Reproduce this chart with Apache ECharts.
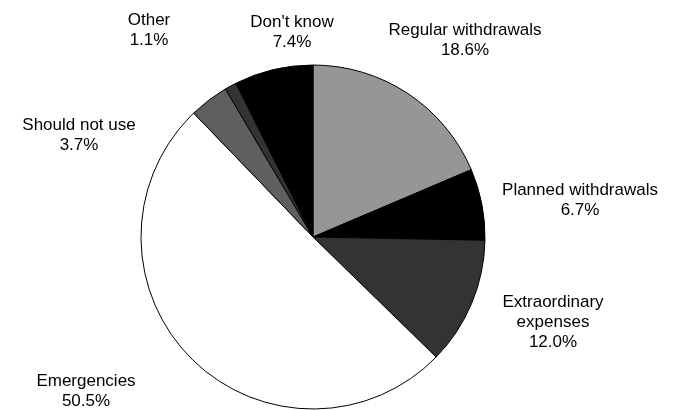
<!DOCTYPE html>
<html><head><meta charset="utf-8">
<script src="https://cdn.jsdelivr.net/npm/echarts@6/dist/echarts.min.js"></script>
<style>html,body{margin:0;padding:0;background:#fff}#c{width:694px;height:410px}</style>
</head><body><div id="c"></div>
<script>
var categories = ["Regular withdrawals", "Planned withdrawals", "Extraordinary\nexpenses", "Emergencies", "Should not use", "Other", "Don't know"];
var values = [18.6, 6.7, 12.0, 50.5, 3.7, 1.1, 7.4];
var colors = ["#969696", "#000000", "#333333", "#ffffff", "#5f5f5f", "#333333", "#000000"];
var labelPos = [[465, 40], [580, 200], [553, 322], [86, 391], [79, 135], [149, 30], [292, 32]];

var chart = echarts.init(document.getElementById('c'), null, {renderer: 'canvas'});
chart.setOption({
  animation: false,
  series: [{
    type: 'pie',
    center: [313, 237],
    radius: [0, 172],
    startAngle: 90,
    clockwise: true,
    data: categories.map(function (n, i) {
      return {name: n, value: values[i], itemStyle: {color: colors[i]}};
    }),
    itemStyle: {borderColor: '#000', borderWidth: 1},
    label: {
      show: true,
      position: 'outside',
      formatter: function (p) { return p.name + '\n' + p.value.toFixed(1) + '%'; },
      fontFamily: 'Liberation Sans, Arial, sans-serif',
      fontSize: 17,
      lineHeight: 20,
      color: '#000',
      align: 'center',
      overflow: 'none',
      width: 300
    },
    labelLine: {show: false},
    labelLayout: function (p) {
      var pos = labelPos[p.dataIndex];
      return {x: pos[0], y: pos[1], align: 'center', verticalAlign: 'middle'};
    },
    emphasis: {disabled: true}
  }]
});
</script></body></html>
